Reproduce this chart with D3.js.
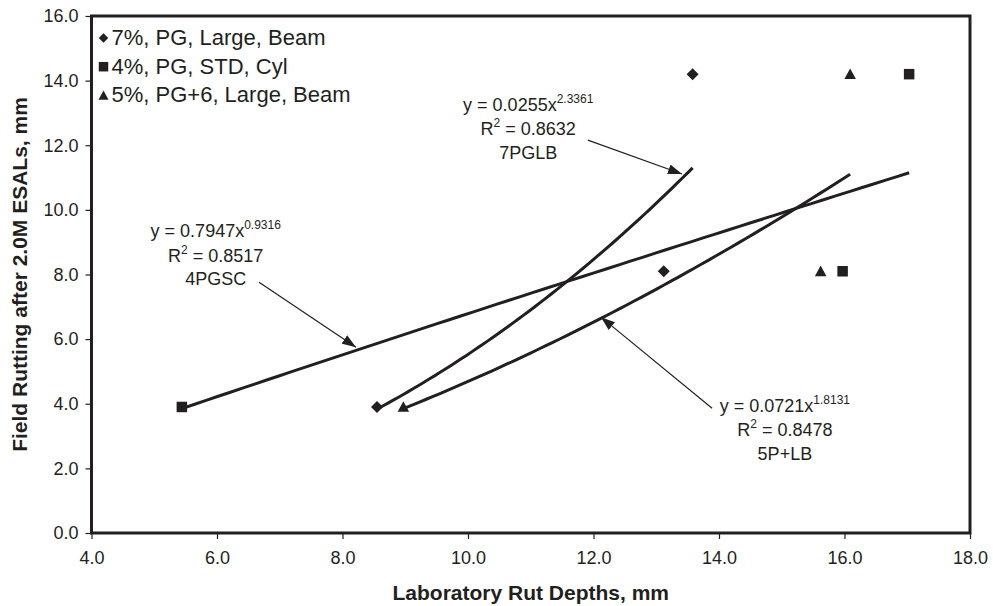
<!DOCTYPE html>
<html>
<head>
<meta charset="utf-8">
<script src="https://cdn.jsdelivr.net/npm/d3@7/dist/d3.min.js"></script>
<style>
    body { margin: 0; background: #fff; }
    text { font-family: "Liberation Sans", Arial, sans-serif; fill: #231f20; }
</style>
</head>
<body>
<div id="chart"></div>
<script>
// lab rut depth (x) vs field rutting (y), one pair of arrays per mix
const seriesNames = ['7%, PG, Large, Beam', '4%, PG, STD, Cyl', '5%, PG+6, Large, Beam'];
const seriesShapes = ['diamond', 'square', 'triangle'];
const lab7 = [8.55, 13.12, 13.58];
const field7 = [3.9, 8.1, 14.2];
const lab4 = [5.44, 15.97, 17.03];
const field4 = [3.9, 8.1, 14.2];
const lab5 = [8.97, 15.62, 16.09];
const field5 = [3.9, 8.1, 14.2];

// power trendlines y = a*x^b, as printed on the chart
const fitCoef = [0.0255, 0.7947, 0.0721];
const fitExp = ['2.3361', '0.9316', '1.8131'];
const fitR2 = ['0.8632', '0.8517', '0.8478'];
const fitTags = ['7PGLB', '4PGSC', '5P+LB'];

// callout text anchors and arrows, in data units
const labelX = [10.96, 5.98, 15.05];
const labelY = [13.06, 9.16, 3.75];
const arrowFrom = [[11.91, 12.16], [6.67, 7.76], [13.89, 3.86]];
const arrowTo = [[13.41, 11.11], [8.215, 5.75], [12.12, 6.68]];

const xTicks = [4, 6, 8, 10, 12, 14, 16, 18];
const yTicks = [0, 2, 4, 6, 8, 10, 12, 14, 16];

const W = 993, H = 606;
const margin = {top: 16, right: 23, bottom: 73, left: 91.5};
const width = W - margin.left - margin.right;
const height = H - margin.top - margin.bottom;
const ink = '#231f20';

const series = [
    {name: seriesNames[0], shape: seriesShapes[0], x: lab7, y: field7},
    {name: seriesNames[1], shape: seriesShapes[1], x: lab4, y: field4},
    {name: seriesNames[2], shape: seriesShapes[2], x: lab5, y: field5}
];

function shapePath(shape, w) {
    const h = w / 2;
    if (shape == 'diamond') return `M0,${-h}L${h},0L0,${h}L${-h},0Z`;
    if (shape == 'square') return `M${-h},${-h}h${w}v${w}h${-w}Z`;
    return `M0,${-h}L${h},${h * 0.85}L${-h},${h * 0.85}Z`;
}
const markSize = {diamond: 12, square: 10.5, triangle: 11.5};

const svg = d3.select('#chart').append('svg')
    .attr('width', W)
    .attr('height', H);

svg.append('defs').append('marker')
    .attr('id', 'head')
    .attr('markerUnits', 'userSpaceOnUse')
    .attr('viewBox', '0 0 14 10')
    .attr('markerWidth', 14)
    .attr('markerHeight', 10)
    .attr('refX', 14)
    .attr('refY', 5)
    .attr('orient', 'auto')
    .append('path')
    .attr('d', 'M0,0L14,5L0,10Z')
    .attr('fill', ink);

const g = svg.append('g')
    .attr('transform', `translate(${margin.left},${margin.top})`);

const x = d3.scaleLinear().domain([4, 18]).range([0, width]);
const y = d3.scaleLinear().domain([0, 16]).range([height, 0]);

// axes
const xAxis = d3.axisBottom(x).tickValues(xTicks).tickFormat(d3.format('.1f'))
    .tickSizeInner(6).tickSizeOuter(0).tickPadding(12);
const yAxis = d3.axisLeft(y).tickValues(yTicks).tickFormat(d3.format('.1f'))
    .tickSizeInner(6).tickSizeOuter(0).tickPadding(7);

const xg = g.append('g').attr('transform', `translate(0,${height})`).call(xAxis);
const yg = g.append('g').call(yAxis);
[xg, yg].forEach(a => {
    a.select('.domain').remove();
    a.selectAll('line').attr('stroke', ink).attr('stroke-width', 1.2);
    a.selectAll('text').attr('font-size', 18).attr('fill', ink)
        .attr('font-family', '"Liberation Sans", Arial, sans-serif');
});

// frame
g.append('rect')
    .attr('width', width)
    .attr('height', height)
    .attr('fill', 'none')
    .attr('stroke', ink)
    .attr('stroke-width', 3);

// trendlines
const line = d3.line().x(d => x(d[0])).y(d => y(d[1]));
series.forEach((s, i) => {
    const [x0, x1] = d3.extent(s.x);
    const pts = d3.range(61).map(k => {
        const xv = x0 + (x1 - x0) * k / 60;
        return [xv, fitCoef[i] * Math.pow(xv, +fitExp[i])];
    });
    g.append('path')
        .attr('d', line(pts))
        .attr('fill', 'none')
        .attr('stroke', ink)
        .attr('stroke-width', 3);
});

// points
series.forEach(s => {
    g.selectAll(null)
        .data(s.x.map((v, k) => [v, s.y[k]]))
        .join('path')
        .attr('transform', d => `translate(${x(d[0])},${y(d[1])})`)
        .attr('d', shapePath(s.shape, markSize[s.shape]))
        .attr('fill', ink);
});

// callouts
fitTags.forEach((tag, i) => {
    g.append('line')
        .attr('x1', x(arrowFrom[i][0])).attr('y1', y(arrowFrom[i][1]))
        .attr('x2', x(arrowTo[i][0])).attr('y2', y(arrowTo[i][1]))
        .attr('stroke', ink)
        .attr('stroke-width', 1.2)
        .attr('marker-end', 'url(#head)');

    const cx = x(labelX[i]), cy = y(labelY[i]);
    const t1 = g.append('text').attr('x', cx).attr('y', cy)
        .attr('text-anchor', 'middle').attr('font-size', 18);
    t1.append('tspan').text(`y = ${fitCoef[i].toFixed(4)}x`);
    t1.append('tspan').attr('dy', -8).attr('font-size', 12).text(fitExp[i]);

    const t2 = g.append('text').attr('x', cx).attr('y', cy + 24.5)
        .attr('text-anchor', 'middle').attr('font-size', 18);
    t2.append('tspan').text('R');
    t2.append('tspan').attr('dy', -8).attr('font-size', 12).text('2');
    t2.append('tspan').attr('dy', 8).text(` = ${fitR2[i]}`);

    g.append('text').attr('x', cx).attr('y', cy + 48)
        .attr('text-anchor', 'middle').attr('font-size', 18)
        .text(tag);
});

// legend
const legend = g.append('g').attr('transform', 'translate(12,29)');
series.forEach((s, i) => {
    const row = legend.append('g').attr('transform', `translate(0,${i * 28.7})`);
    row.append('path')
        .attr('d', shapePath(s.shape, s.shape == 'triangle' ? 10 : 9.5))
        .attr('transform', 'translate(0,-7)')
        .attr('fill', ink);
    row.append('text')
        .attr('x', 8)
        .attr('y', 0)
        .attr('font-size', 22)
        .text(s.name);
});

// axis titles
svg.append('text')
    .attr('x', margin.left + width / 2)
    .attr('y', 600)
    .attr('text-anchor', 'middle')
    .attr('font-size', 21)
    .attr('font-weight', 'bold')
    .text('Laboratory Rut Depths, mm');

svg.append('text')
    .attr('transform', `translate(27,${margin.top + height / 2}) rotate(-90)`)
    .attr('text-anchor', 'middle')
    .attr('font-size', 21)
    .attr('font-weight', 'bold')
    .text('Field Rutting after 2.0M ESALs, mm');
</script>
</body>
</html>
